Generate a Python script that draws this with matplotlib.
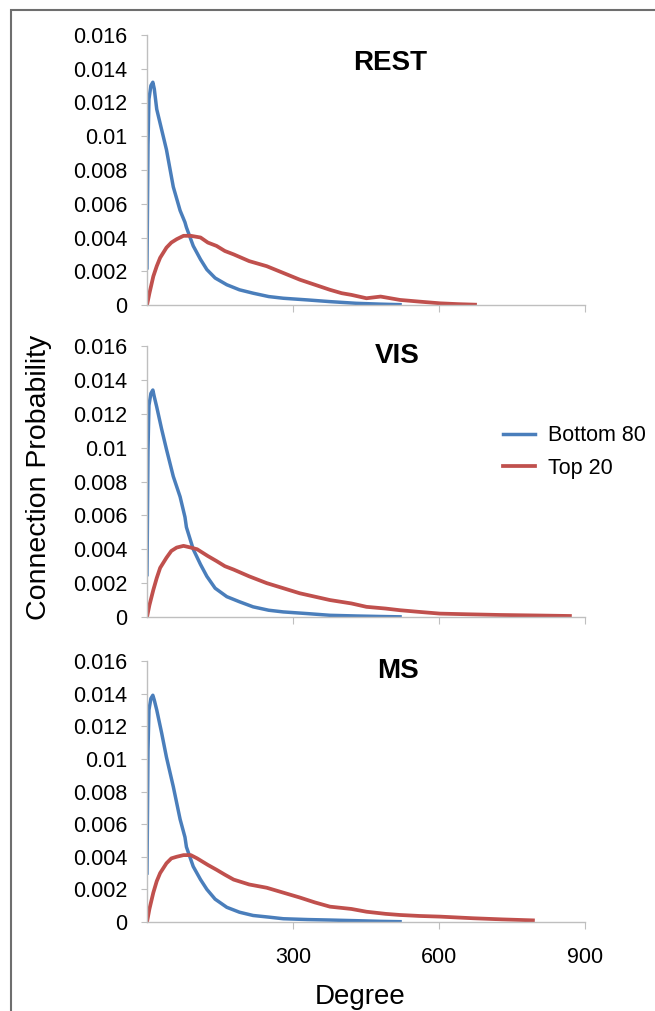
import matplotlib.pyplot as plt
from matplotlib.patches import Rectangle
from matplotlib.ticker import FuncFormatter

plt.rcParams['font.family'] = ['Liberation Sans', 'DejaVu Sans']

panels = ['REST', 'VIS', 'MS']
series = ['Bottom 80', 'Top 20']

# degree / probability pairs
blue_deg = [0, 2, 4, 8, 12, 15, 20, 30, 40, 54, 68, 78, 81, 95, 110, 123, 140, 164, 190, 218, 250, 280, 330, 376, 430, 480, 520]
rest_blue = [0.0022, 0.0095, 0.0122, 0.0130, 0.0132, 0.0128, 0.0116, 0.0104, 0.0092, 0.0070, 0.0056, 0.0049, 0.0046, 0.0035,
             0.0027, 0.0021, 0.0016, 0.0012, 0.0009, 0.0007, 0.0005, 0.0004, 0.0003, 0.0002, 0.0001, 0.00005, 0.00002]
vis_blue = [0.0025, 0.0098, 0.0125, 0.0132, 0.0134, 0.0130, 0.0124, 0.0111, 0.0099, 0.0083, 0.0071, 0.0059, 0.0053, 0.0040,
            0.0031, 0.0024, 0.0017, 0.0012, 0.0009, 0.0006, 0.0004, 0.0003, 0.0002, 0.0001, 0.00006, 0.00003, 0.00001]
ms_blue = [0.0030, 0.0105, 0.0130, 0.0137, 0.0139, 0.0136, 0.0130, 0.0116, 0.0101, 0.0083, 0.0063, 0.0052, 0.0046, 0.0034,
           0.0026, 0.0020, 0.0014, 0.0009, 0.0006, 0.0004, 0.0003, 0.0002, 0.00015, 0.00012, 0.00008, 0.00004, 0.00002]

rest_red_deg = [0, 5, 13, 20, 27, 40, 50, 61, 75, 90, 110, 125, 143, 160, 178, 210, 246, 280, 314, 345, 376, 400, 420, 451, 480,
                520, 560, 602, 640, 674]
rest_red = [0.0, 0.0007, 0.0017, 0.0023, 0.0028, 0.0034, 0.0037, 0.0039, 0.0041, 0.0041, 0.0040, 0.0037, 0.0035, 0.0032,
            0.0030, 0.0026, 0.0023, 0.0019, 0.0015, 0.0012, 0.0009, 0.0007, 0.0006, 0.0004, 0.0005, 0.0003, 0.0002, 0.0001,
            0.00005, 0.00002]

vis_red_deg = [0, 5, 13, 20, 27, 40, 50, 61, 75, 90, 103, 125, 143, 160, 178, 210, 246, 280, 314, 345, 376, 420, 451, 490,
               520, 560, 602, 660, 725, 800, 869]
vis_red = [0.0, 0.0007, 0.0016, 0.0023, 0.0029, 0.0035, 0.0039, 0.0041, 0.0042, 0.0041, 0.0040, 0.0036, 0.0033, 0.0030,
           0.0028, 0.0024, 0.0020, 0.0017, 0.0014, 0.0012, 0.0010, 0.0008, 0.0006, 0.0005, 0.0004, 0.0003, 0.0002, 0.00016,
           0.00012, 0.00009, 0.00006]

ms_red_deg = [0, 5, 13, 20, 27, 40, 50, 61, 75, 90, 103, 125, 143, 160, 178, 210, 246, 280, 314, 345, 376, 420, 451, 490,
              520, 560, 602, 670, 730, 793]
ms_red = [0.0, 0.0008, 0.0018, 0.0025, 0.0030, 0.0036, 0.0039, 0.0040, 0.0041, 0.0041, 0.0039, 0.0035, 0.0032, 0.0029,
          0.0026, 0.0023, 0.0021, 0.0018, 0.00150, 0.0012, 0.00094, 0.0008, 0.00063, 0.0005, 0.00043, 0.00037, 0.00033,
          0.00023, 0.00016, 0.0001]

blues = [rest_blue, vis_blue, ms_blue]
reds = [(rest_red_deg, rest_red), (vis_red_deg, vis_red), (ms_red_deg, ms_red)]

W, H = 655, 1011
fig = plt.figure(figsize=(W / 100, H / 100), dpi=100)

# axes boxes in pixels: (top of 0.016, bottom at 0)
boxes = [(35, 305), (346, 617), (661, 922)]
title_pos = [(0.556, 0.895), (0.572, 0.962), (0.572, 0.962)]
axes = []
for i, (top, bot) in enumerate(boxes):
    ax = fig.add_axes([147 / W, 1 - bot / H, (585 - 147) / W, (bot - top) / H])
    ax.plot(blue_deg, blues[i], color='#4a7ebb', lw=2.5, label=series[0])
    ax.plot(reds[i][0], reds[i][1], color='#c0504d', lw=2.7, label=series[1])
    ax.set_xlim(0, 900)
    ax.set_ylim(0, 0.016)
    ax.set_yticks([0.002 * k for k in range(9)])
    ax.yaxis.set_major_formatter(FuncFormatter(lambda v, p: '{:g}'.format(round(v, 3))))
    ax.set_xticks([300, 600, 900])
    for s in ['top', 'right']:
        ax.spines[s].set_visible(False)
    for s in ['left', 'bottom']:
        ax.spines[s].set_color('#bfbfbf')
        ax.spines[s].set_linewidth(1)
    ax.tick_params(axis='y', length=4, color='#bfbfbf', labelsize=15.5, pad=10)
    ax.tick_params(axis='x', length=5, color='#bfbfbf', labelsize=15.5, pad=13)
    if i < 2:
        ax.tick_params(axis='x', labelbottom=False)
    ax.text(title_pos[i][0], title_pos[i][1], panels[i], transform=ax.transAxes,
            ha='center', va='center', fontsize=20, fontweight='bold')
    axes.append(ax)

axes[1].legend(loc='center left', bbox_to_anchor=(503 / W, 1 - 452 / H), bbox_transform=fig.transFigure,
               frameon=False, fontsize=15.5, handlelength=1.5, handletextpad=0.6, labelspacing=0.55,
               borderpad=0, borderaxespad=0)

fig.text(39 / W, 1 - 477 / H, 'Connection Probability', rotation=90, ha='center', va='center', fontsize=20.5)
fig.text(360 / W, 1 - 997 / H, 'Degree', ha='center', va='center', fontsize=20)

fig.patches.append(Rectangle((11 / W, -0.05), 1.2, 1 - 10 / H + 0.05, transform=fig.transFigure,
                             fill=False, edgecolor='#6e6e6e', lw=1.5))

fig.savefig('out.png', dpi=100)
